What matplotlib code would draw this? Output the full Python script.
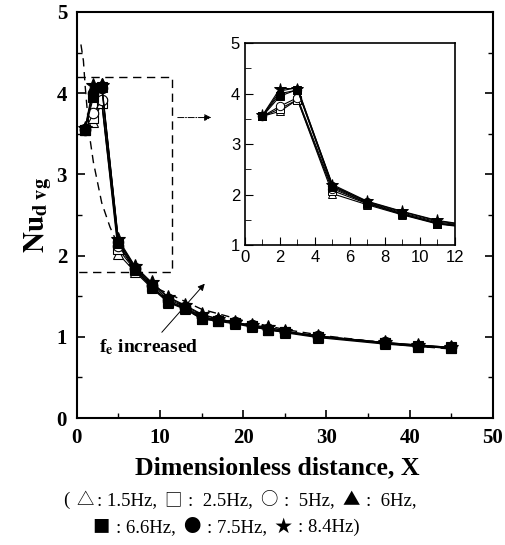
import matplotlib.pyplot as plt
from matplotlib.ticker import MultipleLocator
from matplotlib.offsetbox import TextArea, HPacker, AnnotationBbox

plt.rcParams['mathtext.fontset'] = 'stix'

# dimensionless distance X
x = [1, 2, 3, 5, 7, 9, 11, 13, 15, 17, 19, 21, 23, 25, 29, 37, 41, 45]

# Nu_davg for each excitation frequency
nu_15 = [3.55, 3.65, 3.88, 2.02, 1.80, 1.60, 1.42, 1.34, 1.22, 1.19, 1.16, 1.12, 1.09, 1.05, 0.99, 0.91, 0.88, 0.86]
nu_25 = [3.55, 3.70, 3.88, 2.08, 1.82, 1.61, 1.43, 1.35, 1.23, 1.20, 1.17, 1.13, 1.09, 1.06, 1.00, 0.92, 0.88, 0.86]
nu_50 = [3.55, 3.75, 3.92, 2.12, 1.83, 1.62, 1.44, 1.36, 1.24, 1.21, 1.17, 1.13, 1.10, 1.06, 1.00, 0.92, 0.89, 0.87]
nu_60 = [3.56, 4.05, 4.12, 2.18, 1.86, 1.66, 1.48, 1.38, 1.27, 1.22, 1.18, 1.14, 1.12, 1.07, 1.01, 0.93, 0.90, 0.87]
nu_75 = [3.56, 4.00, 4.07, 2.17, 1.85, 1.64, 1.46, 1.37, 1.25, 1.21, 1.18, 1.14, 1.10, 1.06, 1.01, 0.93, 0.89, 0.87]
nu_84 = [3.57, 4.10, 4.10, 2.20, 1.87, 1.67, 1.49, 1.39, 1.28, 1.22, 1.18, 1.14, 1.12, 1.07, 1.01, 0.93, 0.90, 0.87]
nu_66 = [3.55, 3.95, 4.08, 2.15, 1.83, 1.62, 1.43, 1.35, 1.22, 1.20, 1.17, 1.13, 1.08, 1.06, 1.00, 0.92, 0.89, 0.87]

# dashed correlation curve
corr_x = [0.5, 0.8, 1.0, 1.5, 2, 3, 4, 5, 7, 10, 15, 20, 25, 30, 35, 40, 45]
corr_y = [4.6, 4.4, 4.1, 3.5, 3.15, 2.65, 2.35, 2.12, 1.84, 1.58, 1.34, 1.2, 1.09, 1.01, 0.95, 0.89, 0.85]

# (values, marker, filled)
series = [
    (nu_15, '^', False),
    (nu_25, 's', False),
    (nu_50, 'o', False),
    (nu_60, '^', True),
    (nu_75, 'o', True),
    (nu_84, '*', True),
    (nu_66, 's', True),
]

# caption pieces: (text, is_symbol, gap before in px)
cap1 = [('(', 0, 0), ('\u25b3', 1, 1), (': 1.5Hz,', 0, 0), ('\u25a1', 1, 5), (':  2.5Hz,', 0, 5),
        ('\u25cb', 1, 5), (':  5Hz,', 0, 5), ('\u25b2', 1, 5), (':  6Hz,', 0, 5)]
cap2 = [('\u25a0', 1, 0), (': 6.6Hz,', 0, 5), ('\u25cf', 1, 5), (': 7.5Hz,', 0, 5),
        ('\u2605', 1, 5), (': 8.4Hz)', 0, 5)]

serif_b = dict(family='Liberation Serif', weight='bold')

fig = plt.figure(figsize=(5.05, 5.45), dpi=100)
ax = fig.add_axes([0.152, 0.233, 0.824, 0.745])

for vals, mk, filled in series:
    ms = 10.5 if mk == '*' else 7.5
    ax.plot(x, vals, color='black', lw=0.8, marker=mk, ms=ms,
            mfc='black' if filled else 'white', mec='black', mew=0.8, zorder=3)
ax.plot(corr_x, corr_y, color='black', lw=1.0, ls=(0, (6, 4)), zorder=2)

# zoom box and arrow toward the inset
ax.plot([0, 11.5, 11.5, 0], [4.2, 4.2, 1.8, 1.8], color='black', lw=1.0, ls=(0, (6, 4)))
ax.annotate('', xy=(16.5, 3.7), xytext=(11.8, 3.7),
            arrowprops=dict(arrowstyle='-|>', lw=0.7, ls='-.', color='black', mutation_scale=10))

# f_e increased arrow
ax.annotate('', xy=(15.6, 1.68), xytext=(10.0, 1.03),
            arrowprops=dict(arrowstyle='-|>', lw=0.7, color='black', mutation_scale=10))
ax.text(2.7, 0.87, r'f$_\mathbf{e}$ increased', fontsize=14, va='center', **serif_b)

ax.set_xlim(0, 50)
ax.set_ylim(0, 5)
ax.xaxis.set_major_locator(MultipleLocator(10))
ax.xaxis.set_minor_locator(MultipleLocator(5))
ax.yaxis.set_major_locator(MultipleLocator(1))
ax.yaxis.set_minor_locator(MultipleLocator(0.5))
ax.tick_params(which='both', direction='in', right=True)
ax.tick_params(which='major', length=6, width=1.2, labelsize=15, pad=7)
ax.tick_params(which='minor', length=3.5, width=1.0)
for lab in ax.get_xticklabels() + ax.get_yticklabels():
    lab.set_fontfamily('Liberation Serif')
    lab.set_fontweight('bold')
for sp in ax.spines.values():
    sp.set_linewidth(1.5)

ax.set_ylabel(r'$\mathbf{Nu}_{\mathbf{d\ vg}}$', fontsize=21, labelpad=2)

# inset
axi = fig.add_axes([0.485, 0.550, 0.416, 0.371])
for vals, mk, filled in series:
    ms = 9 if mk == '*' else 6
    axi.plot(x, vals, color='black', lw=0.8, marker=mk, ms=ms,
             mfc='black' if filled else 'white', mec='black', mew=0.7, zorder=3)
axi.set_xlim(0, 12)
axi.set_ylim(1, 5)
axi.xaxis.set_major_locator(MultipleLocator(2))
axi.xaxis.set_minor_locator(MultipleLocator(1))
axi.yaxis.set_major_locator(MultipleLocator(1))
axi.yaxis.set_minor_locator(MultipleLocator(0.5))
axi.tick_params(which='both', direction='in')
axi.tick_params(which='major', length=6, labelsize=12)
axi.tick_params(which='minor', length=4)
for lab in axi.get_xticklabels() + axi.get_yticklabels():
    lab.set_fontfamily('Liberation Sans')
for sp in axi.spines.values():
    sp.set_linewidth(1.2)

fig.text(277 / 505, 1 - 468 / 545, 'Dimensionless distance, X', ha='center', va='center',
         fontsize=18.5, **serif_b)


def caption(pieces, cx, cy):
    boxes = []
    for txt, sym, gap in pieces:
        if sym:
            props = dict(family='Noto Sans CJK JP', fontsize=12.5)
        else:
            props = dict(family='Liberation Serif', fontsize=13.5)
        if gap:
            boxes.append(TextArea('', textprops=dict(fontsize=1)))
            boxes[-1].set_offset((0, 0))
        boxes.append(TextArea(txt, textprops=props))
    pack = HPacker(children=boxes, align='baseline', pad=0, sep=2.5)
    ab = AnnotationBbox(pack, (cx, cy), xycoords='figure fraction', frameon=False,
                        box_alignment=(0.5, 0.5), pad=0)
    fig.add_artist(ab)


caption(cap1, 240 / 505, 1 - 500 / 545)
caption(cap2, 226 / 505, 1 - 527 / 545)

fig.savefig('out.png', dpi=100)
